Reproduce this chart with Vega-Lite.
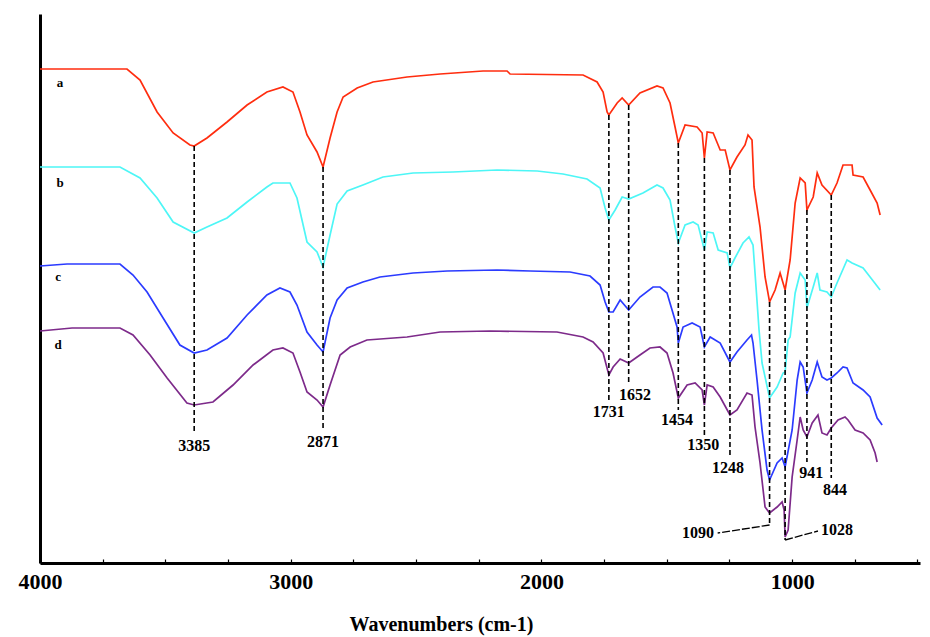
{
  "$schema": "https://vega.github.io/schema/vega-lite/v6.json",
  "width": 880,
  "height": 549,
  "autosize": {"type": "none"},
  "padding": {"left": 40, "top": 14, "right": 10, "bottom": 74},
  "background": "white",
  "config": {"view": {"stroke": null}, "font": "Liberation Serif"},
  "datasets": {
    "spectra": [
      {"s":"a","w":4000,"t":494},{"s":"a","w":3653,"t":494},{"s":"a","w":3601,"t":483},{"s":"a","w":3533,"t":451},{"s":"a","w":3469,"t":430},{"s":"a","w":3402,"t":418},{"s":"a","w":3385,"t":417},{"s":"a","w":3334,"t":425},{"s":"a","w":3254,"t":441},{"s":"a","w":3174,"t":458},{"s":"a","w":3095,"t":471},{"s":"a","w":3031,"t":476},{"s":"a","w":2991,"t":471},{"s":"a","w":2963,"t":451},{"s":"a","w":2935,"t":428},{"s":"a","w":2895,"t":411},{"s":"a","w":2871,"t":396},{"s":"a","w":2843,"t":425},{"s":"a","w":2815,"t":451},{"s":"a","w":2791,"t":466},{"s":"a","w":2735,"t":475},{"s":"a","w":2672,"t":481},{"s":"a","w":2536,"t":486},{"s":"a","w":2404,"t":489},{"s":"a","w":2233,"t":492},{"s":"a","w":2137,"t":492},{"s":"a","w":2125,"t":489},{"s":"a","w":1834,"t":488},{"s":"a","w":1778,"t":481},{"s":"a","w":1754,"t":471},{"s":"a","w":1738,"t":451},{"s":"a","w":1731,"t":448},{"s":"a","w":1698,"t":460},{"s":"a","w":1678,"t":465},{"s":"a","w":1652,"t":458},{"s":"a","w":1607,"t":470},{"s":"a","w":1539,"t":477},{"s":"a","w":1515,"t":475},{"s":"a","w":1487,"t":460},{"s":"a","w":1467,"t":436},{"s":"a","w":1454,"t":420},{"s":"a","w":1427,"t":438},{"s":"a","w":1379,"t":436},{"s":"a","w":1359,"t":430},{"s":"a","w":1350,"t":405},{"s":"a","w":1339,"t":431},{"s":"a","w":1315,"t":430},{"s":"a","w":1287,"t":413},{"s":"a","w":1267,"t":413},{"s":"a","w":1248,"t":393},{"s":"a","w":1220,"t":406},{"s":"a","w":1188,"t":418},{"s":"a","w":1176,"t":428},{"s":"a","w":1160,"t":423},{"s":"a","w":1152,"t":376},{"s":"a","w":1128,"t":336},{"s":"a","w":1108,"t":286},{"s":"a","w":1090,"t":261},{"s":"a","w":1068,"t":273},{"s":"a","w":1048,"t":290},{"s":"a","w":1028,"t":273},{"s":"a","w":1008,"t":303},{"s":"a","w":988,"t":360},{"s":"a","w":968,"t":385},{"s":"a","w":948,"t":380},{"s":"a","w":941,"t":353},{"s":"a","w":916,"t":366},{"s":"a","w":900,"t":390},{"s":"a","w":881,"t":378},{"s":"a","w":844,"t":368},{"s":"a","w":821,"t":380},{"s":"a","w":797,"t":398},{"s":"a","w":761,"t":398},{"s":"a","w":757,"t":388},{"s":"a","w":717,"t":386},{"s":"a","w":689,"t":373},{"s":"a","w":661,"t":360},{"s":"a","w":649,"t":348},
      {"s":"b","w":4000,"t":396},{"s":"b","w":3681,"t":396},{"s":"b","w":3601,"t":385},{"s":"b","w":3533,"t":365},{"s":"b","w":3469,"t":341},{"s":"b","w":3385,"t":330},{"s":"b","w":3334,"t":336},{"s":"b","w":3254,"t":345},{"s":"b","w":3174,"t":361},{"s":"b","w":3095,"t":376},{"s":"b","w":3071,"t":380},{"s":"b","w":3003,"t":380},{"s":"b","w":2975,"t":365},{"s":"b","w":2935,"t":321},{"s":"b","w":2895,"t":311},{"s":"b","w":2871,"t":296},{"s":"b","w":2843,"t":328},{"s":"b","w":2815,"t":359},{"s":"b","w":2775,"t":372},{"s":"b","w":2712,"t":378},{"s":"b","w":2632,"t":386},{"s":"b","w":2512,"t":390},{"s":"b","w":2353,"t":391},{"s":"b","w":2177,"t":393},{"s":"b","w":2017,"t":392},{"s":"b","w":1914,"t":389},{"s":"b","w":1818,"t":384},{"s":"b","w":1766,"t":375},{"s":"b","w":1746,"t":355},{"s":"b","w":1731,"t":343},{"s":"b","w":1706,"t":353},{"s":"b","w":1678,"t":366},{"s":"b","w":1652,"t":364},{"s":"b","w":1595,"t":370},{"s":"b","w":1539,"t":378},{"s":"b","w":1515,"t":375},{"s":"b","w":1487,"t":363},{"s":"b","w":1467,"t":336},{"s":"b","w":1454,"t":320},{"s":"b","w":1427,"t":338},{"s":"b","w":1395,"t":341},{"s":"b","w":1375,"t":338},{"s":"b","w":1350,"t":313},{"s":"b","w":1339,"t":331},{"s":"b","w":1315,"t":330},{"s":"b","w":1295,"t":313},{"s":"b","w":1259,"t":310},{"s":"b","w":1248,"t":295},{"s":"b","w":1228,"t":305},{"s":"b","w":1196,"t":320},{"s":"b","w":1172,"t":326},{"s":"b","w":1156,"t":318},{"s":"b","w":1144,"t":276},{"s":"b","w":1132,"t":233},{"s":"b","w":1120,"t":200},{"s":"b","w":1090,"t":165},{"s":"b","w":1060,"t":176},{"s":"b","w":1036,"t":190},{"s":"b","w":1028,"t":191},{"s":"b","w":1016,"t":223},{"s":"b","w":1008,"t":226},{"s":"b","w":988,"t":270},{"s":"b","w":968,"t":290},{"s":"b","w":948,"t":283},{"s":"b","w":941,"t":255},{"s":"b","w":916,"t":276},{"s":"b","w":900,"t":290},{"s":"b","w":889,"t":273},{"s":"b","w":861,"t":271},{"s":"b","w":844,"t":266},{"s":"b","w":821,"t":280},{"s":"b","w":781,"t":303},{"s":"b","w":761,"t":300},{"s":"b","w":717,"t":295},{"s":"b","w":689,"t":286},{"s":"b","w":649,"t":273},
      {"s":"c","w":4000,"t":297},{"s":"c","w":3892,"t":299},{"s":"c","w":3681,"t":299},{"s":"c","w":3629,"t":288},{"s":"c","w":3573,"t":271},{"s":"c","w":3509,"t":245},{"s":"c","w":3442,"t":218},{"s":"c","w":3385,"t":210},{"s":"c","w":3334,"t":213},{"s":"c","w":3254,"t":225},{"s":"c","w":3174,"t":248},{"s":"c","w":3095,"t":268},{"s":"c","w":3043,"t":275},{"s":"c","w":3003,"t":271},{"s":"c","w":2975,"t":258},{"s":"c","w":2935,"t":231},{"s":"c","w":2895,"t":218},{"s":"c","w":2871,"t":211},{"s":"c","w":2843,"t":245},{"s":"c","w":2815,"t":263},{"s":"c","w":2775,"t":275},{"s":"c","w":2712,"t":281},{"s":"c","w":2644,"t":286},{"s":"c","w":2512,"t":290},{"s":"c","w":2376,"t":292},{"s":"c","w":2177,"t":293},{"s":"c","w":2045,"t":292},{"s":"c","w":1886,"t":291},{"s":"c","w":1806,"t":287},{"s":"c","w":1766,"t":278},{"s":"c","w":1746,"t":261},{"s":"c","w":1731,"t":251},{"s":"c","w":1714,"t":251},{"s":"c","w":1686,"t":263},{"s":"c","w":1652,"t":253},{"s":"c","w":1607,"t":266},{"s":"c","w":1555,"t":276},{"s":"c","w":1527,"t":276},{"s":"c","w":1499,"t":270},{"s":"c","w":1479,"t":253},{"s":"c","w":1459,"t":236},{"s":"c","w":1454,"t":220},{"s":"c","w":1435,"t":236},{"s":"c","w":1399,"t":240},{"s":"c","w":1367,"t":236},{"s":"c","w":1350,"t":216},{"s":"c","w":1327,"t":226},{"s":"c","w":1287,"t":220},{"s":"c","w":1248,"t":201},{"s":"c","w":1220,"t":211},{"s":"c","w":1180,"t":223},{"s":"c","w":1162,"t":228},{"s":"c","w":1156,"t":220},{"s":"c","w":1140,"t":183},{"s":"c","w":1120,"t":133},{"s":"c","w":1100,"t":93},{"s":"c","w":1090,"t":83},{"s":"c","w":1060,"t":100},{"s":"c","w":1040,"t":105},{"s":"c","w":1028,"t":96},{"s":"c","w":1000,"t":133},{"s":"c","w":980,"t":183},{"s":"c","w":968,"t":201},{"s":"c","w":956,"t":196},{"s":"c","w":941,"t":170},{"s":"c","w":920,"t":183},{"s":"c","w":900,"t":201},{"s":"c","w":881,"t":186},{"s":"c","w":861,"t":183},{"s":"c","w":844,"t":185},{"s":"c","w":821,"t":190},{"s":"c","w":797,"t":196},{"s":"c","w":781,"t":195},{"s":"c","w":757,"t":180},{"s":"c","w":717,"t":173},{"s":"c","w":689,"t":166},{"s":"c","w":661,"t":145},{"s":"c","w":641,"t":138},
      {"s":"d","w":4000,"t":232},{"s":"d","w":3872,"t":235},{"s":"d","w":3681,"t":235},{"s":"d","w":3629,"t":228},{"s":"d","w":3561,"t":208},{"s":"d","w":3493,"t":185},{"s":"d","w":3414,"t":160},{"s":"d","w":3385,"t":158},{"s":"d","w":3310,"t":161},{"s":"d","w":3230,"t":178},{"s":"d","w":3150,"t":198},{"s":"d","w":3071,"t":213},{"s":"d","w":3031,"t":215},{"s":"d","w":2991,"t":210},{"s":"d","w":2963,"t":191},{"s":"d","w":2935,"t":171},{"s":"d","w":2895,"t":163},{"s":"d","w":2871,"t":156},{"s":"d","w":2843,"t":178},{"s":"d","w":2803,"t":208},{"s":"d","w":2763,"t":216},{"s":"d","w":2696,"t":223},{"s":"d","w":2536,"t":226},{"s":"d","w":2404,"t":231},{"s":"d","w":2205,"t":232},{"s":"d","w":1938,"t":231},{"s":"d","w":1834,"t":226},{"s":"d","w":1794,"t":221},{"s":"d","w":1754,"t":210},{"s":"d","w":1731,"t":188},{"s":"d","w":1714,"t":196},{"s":"d","w":1686,"t":204},{"s":"d","w":1652,"t":200},{"s":"d","w":1607,"t":208},{"s":"d","w":1567,"t":215},{"s":"d","w":1527,"t":216},{"s":"d","w":1499,"t":210},{"s":"d","w":1475,"t":190},{"s":"d","w":1454,"t":165},{"s":"d","w":1419,"t":178},{"s":"d","w":1387,"t":180},{"s":"d","w":1359,"t":173},{"s":"d","w":1350,"t":158},{"s":"d","w":1339,"t":178},{"s":"d","w":1315,"t":176},{"s":"d","w":1287,"t":166},{"s":"d","w":1248,"t":148},{"s":"d","w":1220,"t":153},{"s":"d","w":1180,"t":170},{"s":"d","w":1160,"t":168},{"s":"d","w":1148,"t":136},{"s":"d","w":1128,"t":100},{"s":"d","w":1108,"t":56},{"s":"d","w":1090,"t":50},{"s":"d","w":1060,"t":56},{"s":"d","w":1040,"t":61},{"s":"d","w":1032,"t":53},{"s":"d","w":1028,"t":26},{"s":"d","w":1016,"t":33},{"s":"d","w":1000,"t":86},{"s":"d","w":980,"t":123},{"s":"d","w":968,"t":146},{"s":"d","w":956,"t":133},{"s":"d","w":941,"t":126},{"s":"d","w":920,"t":140},{"s":"d","w":897,"t":148},{"s":"d","w":881,"t":130},{"s":"d","w":861,"t":128},{"s":"d","w":844,"t":135},{"s":"d","w":817,"t":143},{"s":"d","w":789,"t":146},{"s":"d","w":777,"t":143},{"s":"d","w":749,"t":133},{"s":"d","w":717,"t":130},{"s":"d","w":689,"t":123},{"s":"d","w":669,"t":110},{"s":"d","w":661,"t":101}
    ],
    "peaks": [
      {"w":3385,"t1":417,"t2":130},{"w":2871,"t1":396,"t2":133},{"w":1731,"t1":448,"t2":161},{"w":1652,"t1":458,"t2":178},{"w":1454,"t1":420,"t2":153},{"w":1350,"t1":405,"t2":128},{"w":1248,"t1":393,"t2":105},{"w":1090,"t1":261,"t2":38},{"w":1028,"t1":273,"t2":23},{"w":941,"t1":353,"t2":101},{"w":844,"t1":368,"t2":85}
    ],
    "leaders": [
      {"w1":1090,"v1":38,"w2":1297,"v2":30},{"w1":1028,"v1":23,"w2":897,"v2":32}
    ],
    "labels": [
      {"w":3385,"t":117,"l":"3385"},{"w":2871,"t":121,"l":"2871"},{"w":1731,"t":151,"l":"1731"},{"w":1627,"t":168,"l":"1652"},{"w":1459,"t":143,"l":"1454"},{"w":1355,"t":118,"l":"1350"},{"w":1256,"t":95,"l":"1248"},{"w":924,"t":90,"l":"941"},{"w":829,"t":73,"l":"844"},{"w":1375,"t":30,"l":"1090"},{"w":821,"t":33,"l":"1028"}
    ],
    "names": [
      {"w":3920,"t":480,"l":"a"},{"w":3920,"t":380,"l":"b"},{"w":3928,"t":286,"l":"c"},{"w":3928,"t":218,"l":"d"}
    ]
  },
  "layer": [
    {
      "data": {"name": "spectra"},
      "mark": {"type": "line", "strokeWidth": 1.7, "interpolate": "linear"},
      "encoding": {
        "x": {"field": "w", "type": "quantitative",
          "scale": {"domain": [490, 4000], "reverse": true, "nice": false, "zero": false},
          "axis": {"values": [4000,3750,3500,3250,3000,2750,2500,2250,2000,1750,1500,1250,1000,750,500],
            "format": "d", "labelExpr": "datum.value % 1000 == 0 ? datum.label : ''",
            "domainColor": "black", "domainWidth": 3, "tickColor": "black", "tickWidth": 1.2, "tickSize": -4,
            "labelFont": "Liberation Serif", "labelFontWeight": "bold", "labelFontSize": 22, "labelColor": "black",
            "labelPadding": 12, "labelFlush": false, "labelOverlap": false, "grid": false,
            "title": "Wavenumbers (cm-1)", "titleFont": "Liberation Serif", "titleFontWeight": "bold", "titleFontSize": 20,
            "titleColor": "black", "titleX": 401, "titleY": 61, "titleBaseline": "middle", "titleAnchor": null}},
        "y": {"field": "t", "type": "quantitative",
          "scale": {"domain": [0, 549], "nice": false, "zero": false},
          "axis": {"domainColor": "black", "domainWidth": 3, "ticks": false, "labels": false, "grid": false, "title": null}},
        "color": {"field": "s", "type": "nominal",
          "scale": {"domain": ["a","b","c","d"], "range": ["#ff2d0f","#4df6f6","#2b3bff","#7d2a8a"]},
          "legend": null}
      }
    },
    {
      "data": {"name": "peaks"},
      "mark": {"type": "rule", "color": "black", "strokeWidth": 1.6, "strokeDash": [5, 3]},
      "encoding": {
        "x": {"field": "w", "type": "quantitative"},
        "y": {"field": "t1", "type": "quantitative"},
        "y2": {"field": "t2"}
      }
    },
    {
      "data": {"name": "leaders"},
      "mark": {"type": "rule", "color": "black", "strokeWidth": 1.3, "strokeDash": [8, 2]},
      "encoding": {
        "x": {"field": "w1", "type": "quantitative"},
        "x2": {"field": "w2"},
        "y": {"field": "v1", "type": "quantitative"},
        "y2": {"field": "v2"}
      }
    },
    {
      "data": {"name": "labels"},
      "mark": {"type": "text", "font": "Liberation Serif", "fontWeight": "bold", "fontSize": 16, "color": "black", "baseline": "middle", "align": "center"},
      "encoding": {
        "x": {"field": "w", "type": "quantitative"},
        "y": {"field": "t", "type": "quantitative"},
        "text": {"field": "l"}
      }
    },
    {
      "data": {"name": "names"},
      "mark": {"type": "text", "font": "Liberation Serif", "fontWeight": "bold", "fontSize": 13, "color": "black", "baseline": "middle", "align": "center"},
      "encoding": {
        "x": {"field": "w", "type": "quantitative"},
        "y": {"field": "t", "type": "quantitative"},
        "text": {"field": "l"}
      }
    }
  ]
}
